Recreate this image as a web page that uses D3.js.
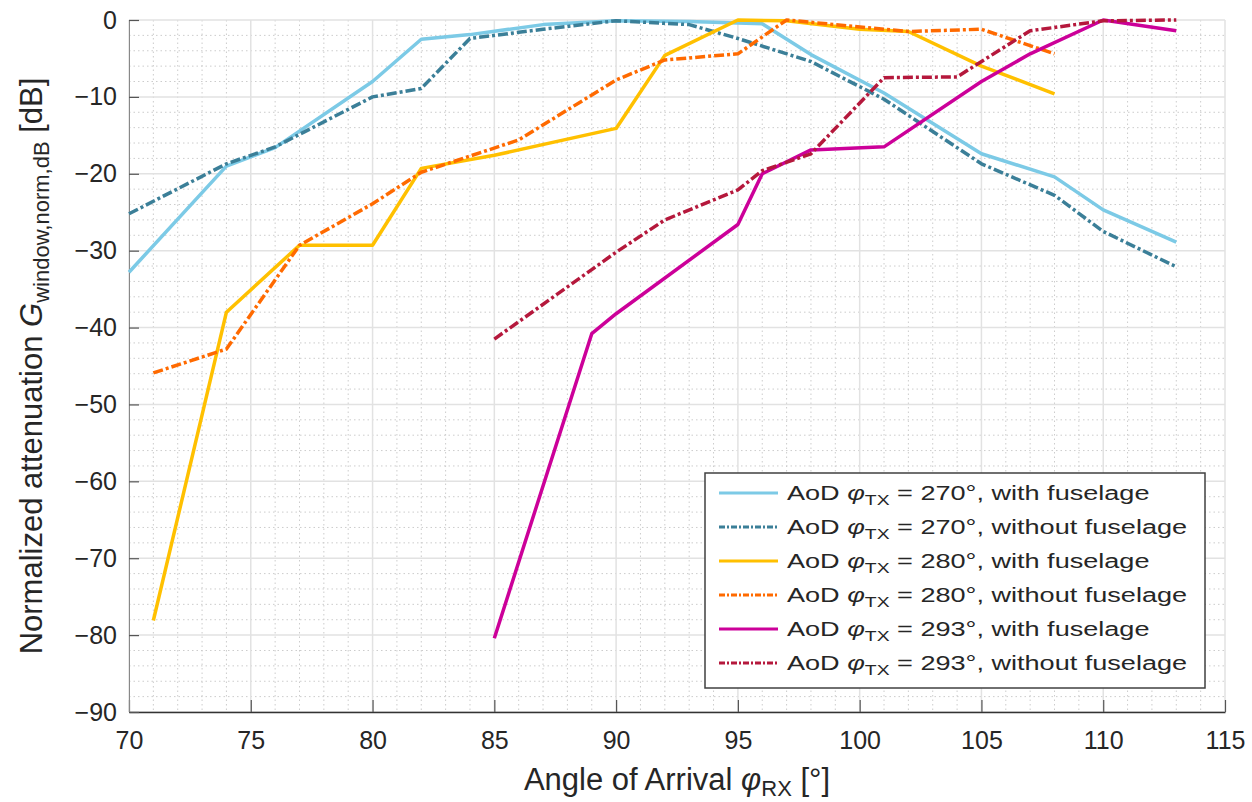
<!DOCTYPE html>
<html>
<head>
<meta charset="utf-8">
<script src="https://cdn.jsdelivr.net/npm/d3@7/dist/d3.min.js"></script>
<style>
body { margin: 0; background: #fff; }
text { font-family: "Liberation Sans", Arial, sans-serif; fill: #262626; }
</style>
</head>
<body>
<div id="chart"></div>
<script>
// values (angle of arrival in deg, attenuation in dB)
var x270with = [70, 74, 76, 80, 82, 84, 87, 90, 93, 96, 98, 101, 105, 108, 110, 113]
var y270with = [-32.8, -19.0, -16.6, -8.0, -2.5, -1.9, -0.6, -0.1, -0.2, -0.5, -4.5, -9.5, -17.4, -20.4, -24.7, -28.9]

var x270without = [70, 74, 76, 80, 82, 84, 87, 90, 93, 95, 98, 101, 105, 108, 110, 113]
var y270without = [-25.2, -18.7, -16.5, -10.0, -8.9, -2.4, -1.2, -0.1, -0.6, -2.4, -5.4, -10.3, -18.7, -22.8, -27.5, -32.1]

var x280with = [71, 74, 77, 80, 82, 85, 90, 92, 95, 97, 100, 102, 105, 108]
var y280with = [-78.1, -38.0, -29.3, -29.3, -19.3, -17.6, -14.1, -4.6, 0, -0.1, -1.2, -1.5, -6.0, -9.6]

var x280without = [71, 74, 77, 80, 82, 86, 90, 92, 95, 97, 102, 105, 108]
var y280without = [-45.9, -42.8, -29.3, -23.9, -19.8, -15.6, -7.8, -5.2, -4.4, 0, -1.5, -1.2, -4.4]

var x293with = [85, 89, 90, 95, 96, 98, 101, 105, 107, 110, 113]
var y293with = [-80.4, -40.8, -38.2, -26.6, -20.0, -16.9, -16.5, -8.0, -4.4, 0, -1.4]

var x293without = [85, 90, 92, 95, 96, 98, 101, 104, 107, 110, 113]
var y293without = [-41.5, -30.2, -26.0, -22.1, -19.6, -17.4, -7.5, -7.4, -1.4, -0.1, 0]

var aodLabels = ["270°", "270°", "280°", "280°", "293°", "293°"]
var caseLabels = ["with fuselage", "without fuselage", "with fuselage", "without fuselage", "with fuselage", "without fuselage"]
var seriesColors = ["#7ccae6", "#3b7f98", "#ffc000", "#ff6a00", "#cc0099", "#b5183c"]
var dashed = [false, true, false, true, false, true]

var xTicks = [70, 75, 80, 85, 90, 95, 100, 105, 110, 115]
var yTicks = [0, -10, -20, -30, -40, -50, -60, -70, -80, -90]

var width = 1252, height = 802
var margin = {top: 20, right: 27, bottom: 90, left: 129}
var plot_w = width - margin.left - margin.right
var plot_h = height - margin.top - margin.bottom

var svg = d3.select("#chart").append("svg")
  .attr("width", width)
  .attr("height", height)

var g = svg.append("g").attr("transform", "translate(" + margin.left + "," + margin.top + ")")

var x = d3.scaleLinear().domain([70, 115]).range([0, plot_w])
var y = d3.scaleLinear().domain([-90, 0]).range([plot_h, 0])

// minor grid (dotted)
var minorX = d3.range(71, 115).filter(function(d) { return d % 5 != 0 })
var minorY = d3.range(-88, 0, 2).filter(function(d) { return d % 10 != 0 })

g.append("g").selectAll("line").data(minorX).enter().append("line")
  .attr("x1", function(d) { return x(d) }).attr("x2", function(d) { return x(d) })
  .attr("y1", 0).attr("y2", plot_h)
  .attr("stroke", "#cccccc").attr("stroke-width", 1).attr("stroke-dasharray", "1.5,3")

g.append("g").selectAll("line").data(minorY).enter().append("line")
  .attr("y1", function(d) { return y(d) }).attr("y2", function(d) { return y(d) })
  .attr("x1", 0).attr("x2", plot_w)
  .attr("stroke", "#cccccc").attr("stroke-width", 1).attr("stroke-dasharray", "1.5,3")

// major grid
g.append("g").selectAll("line").data(xTicks).enter().append("line")
  .attr("x1", function(d) { return x(d) }).attr("x2", function(d) { return x(d) })
  .attr("y1", 0).attr("y2", plot_h)
  .attr("stroke", "#e2e2e2").attr("stroke-width", 1.5)

g.append("g").selectAll("line").data(yTicks).enter().append("line")
  .attr("y1", function(d) { return y(d) }).attr("y2", function(d) { return y(d) })
  .attr("x1", 0).attr("x2", plot_w)
  .attr("stroke", "#e2e2e2").attr("stroke-width", 1.5)

// axes
var xAxis = g.append("g").attr("transform", "translate(0," + plot_h + ")")
  .call(d3.axisBottom(x).tickValues(xTicks).tickSizeInner(-12).tickSizeOuter(0).tickPadding(19))
xAxis.select(".domain").attr("stroke", "#333").attr("stroke-width", 1.5)
xAxis.selectAll(".tick line").attr("stroke", "#555").attr("stroke-width", 1.2)
xAxis.selectAll(".tick text").attr("font-size", "25px").attr("fill", "#262626")
  .attr("font-family", "Liberation Sans, Arial, sans-serif")

var yAxis = g.append("g")
  .call(d3.axisLeft(y).tickValues(yTicks).tickSizeInner(-10).tickSizeOuter(0).tickPadding(12)
    .tickFormat(function(d) { return d == 0 ? "0" : "\u2212" + Math.abs(d) }))
yAxis.select(".domain").attr("stroke", "#888").attr("stroke-width", 1)
yAxis.selectAll(".tick line").attr("stroke", "#555").attr("stroke-width", 1.2)
yAxis.selectAll(".tick text").attr("font-size", "25px").attr("fill", "#262626")
  .attr("font-family", "Liberation Sans, Arial, sans-serif")

// series
var xs = [x270with, x270without, x280with, x280without, x293with, x293without]
var ys = [y270with, y270without, y280with, y280without, y293with, y293without]

var line = d3.line()
  .x(function(d) { return x(d[0]) })
  .y(function(d) { return y(d[1]) })

xs.forEach(function(xv, i) {
  var pts = xv.map(function(v, j) { return [v, ys[i][j]] })
  g.append("path")
    .datum(pts)
    .attr("d", line)
    .attr("fill", "none")
    .attr("stroke", seriesColors[i])
    .attr("stroke-width", 3.5)
    .attr("stroke-linejoin", "round")
    .attr("stroke-dasharray", dashed[i] ? "10,3,3,3" : null)
})

// axis titles
svg.append("text")
  .attr("x", margin.left + plot_w / 2)
  .attr("y", 790)
  .attr("text-anchor", "middle")
  .attr("font-size", "31px")
  .call(function(t) {
    t.append("tspan").text("Angle of Arrival ")
    t.append("tspan").attr("font-style", "italic").text("\u03c6")
    t.append("tspan").attr("font-size", "22px").attr("dy", 6).text("RX")
    t.append("tspan").attr("dy", -6).text(" [°]")
  })

svg.append("text")
  .attr("transform", "translate(42," + (margin.top + plot_h / 2) + ") rotate(-90)")
  .attr("text-anchor", "middle")
  .attr("font-size", "31px")
  .call(function(t) {
    t.append("tspan").text("Normalized attenuation ")
    t.append("tspan").attr("font-style", "italic").text("G")
    t.append("tspan").attr("font-size", "22px").attr("dy", 7).text("window,norm,dB")
    t.append("tspan").attr("dy", -7).text(" [dB]")
  })

// legend
var legX = 705, legY = 473, legW = 500, legH = 215, rowH = 34
var legend = svg.append("g")
legend.append("rect")
  .attr("x", legX).attr("y", legY).attr("width", legW).attr("height", legH)
  .attr("fill", "#fff").attr("stroke", "#404040").attr("stroke-width", 1.5)

seriesColors.forEach(function(c, i) {
  var ry = legY + 20 + i * rowH
  legend.append("line")
    .attr("x1", 719).attr("x2", 778).attr("y1", ry).attr("y2", ry)
    .attr("stroke", c).attr("stroke-width", 3)
    .attr("stroke-dasharray", dashed[i] ? "6,2,2,2" : null)
  var tg = legend.append("g").attr("transform", "translate(787," + ry + ") scale(1.29,1)")
  var t = tg.append("text").attr("font-size", "21px").attr("dy", "0.35em")
  t.append("tspan").text("AoD ")
  t.append("tspan").attr("font-style", "italic").text("\u03c6")
  t.append("tspan").attr("font-size", "15px").attr("dy", 5).text("TX")
  t.append("tspan").attr("dy", -5).text(" = " + aodLabels[i] + ", " + caseLabels[i])
})
</script>
</body>
</html>
